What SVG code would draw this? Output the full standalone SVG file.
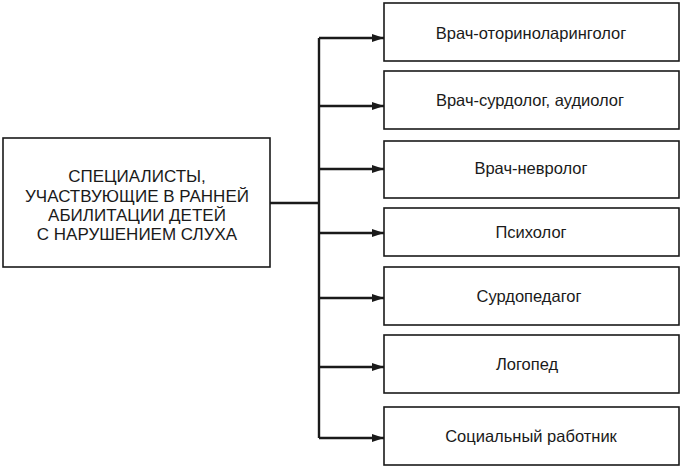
<svg xmlns="http://www.w3.org/2000/svg" width="684" height="471" viewBox="0 0 684 471">
<defs>
<style>
.box{fill:#fff;stroke:#1a1a1a;stroke-width:1.6}
.t{font-family:"Liberation Sans",Arial,sans-serif;font-size:16.5px;fill:#1a1a1a;text-anchor:middle}
.h{font-family:"Liberation Sans",Arial,sans-serif;font-size:17px;fill:#1a1a1a;text-anchor:middle}
.c{fill:none;stroke:#1a1a1a;stroke-width:2.4}
</style>
<marker id="ah" viewBox="0 0 12 8" refX="12" refY="4" markerWidth="12" markerHeight="8" markerUnits="userSpaceOnUse" orient="auto">
<path d="M0,0 L12,4 L0,8 Z" fill="#1a1a1a"/>
</marker>
</defs>
<rect width="684" height="471" fill="#fff"/>
<g id="connectors">
<path class="c" d="M270,203 H319"/>
<path class="c" d="M319,38 V438"/>
<path class="c" d="M319,38 H384" marker-end="url(#ah)"/>
<path class="c" d="M319,106 H384" marker-end="url(#ah)"/>
<path class="c" d="M319,169 H384" marker-end="url(#ah)"/>
<path class="c" d="M319,233 H384" marker-end="url(#ah)"/>
<path class="c" d="M319,298 H384" marker-end="url(#ah)"/>
<path class="c" d="M319,367 H384" marker-end="url(#ah)"/>
<path class="c" d="M319,438 H384" marker-end="url(#ah)"/>
</g>
<g id="main">
<rect class="box" x="3" y="138" width="267" height="129"/>
<text class="h" x="137" y="182">СПЕЦИАЛИСТЫ,</text>
<text class="h" x="137" y="201.5">УЧАСТВУЮЩИЕ В РАННЕЙ</text>
<text class="h" x="137" y="220.5">АБИЛИТАЦИИ ДЕТЕЙ</text>
<text class="h" x="137" y="240">С НАРУШЕНИЕМ СЛУХА</text>
</g>
<g id="n1">
<rect class="box" x="384" y="3" width="295" height="58"/>
<text class="t" x="531" y="39">Врач-оториноларинголог</text>
</g>
<g id="n2">
<rect class="box" x="384" y="71" width="295" height="58"/>
<text class="t" x="530" y="106">Врач-сурдолог, аудиолог</text>
</g>
<g id="n3">
<rect class="box" x="384" y="141" width="295" height="57"/>
<text class="t" x="531" y="174">Врач-невролог</text>
</g>
<g id="n4">
<rect class="box" x="384" y="208" width="295" height="48"/>
<text class="t" x="531" y="238">Психолог</text>
</g>
<g id="n5">
<rect class="box" x="384" y="267" width="295" height="58"/>
<text class="t" x="529" y="302">Сурдопедагог</text>
</g>
<g id="n6">
<rect class="box" x="384" y="335" width="295" height="58"/>
<text class="t" x="527" y="370">Логопед</text>
</g>
<g id="n7">
<rect class="box" x="384" y="407" width="295" height="58"/>
<text class="t" x="531" y="442">Социальный работник</text>
</g>
</svg>
